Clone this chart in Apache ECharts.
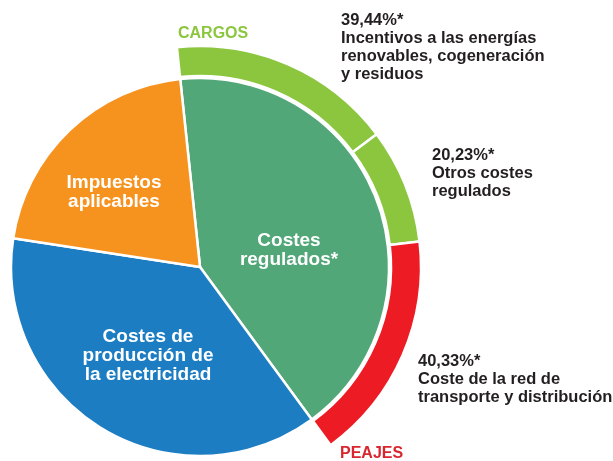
<!DOCTYPE html>
<html lang="es">
<head>
    <meta charset="UTF-8">
    <title>Costes</title>
    <style>
        html, body { margin: 0; padding: 0; background: #fff; }
    </style>
</head>
<body>
<div id="main" style="width: 613px;height:461px;"></div>
<script src="https://cdn.jsdelivr.net/npm/echarts@6/dist/echarts.min.js"></script>
<script>
    // datos
    var innerNames = ['Costes\nregulados*', 'Costes de\nproducción de\nla electricidad', 'Impuestos\naplicables'];
    var innerValues = [41.6, 37.5, 20.9];
    var innerColors = ['#52a778', '#1c7dc2', '#f6921e'];

    var ringNames = ['Incentivos a las energías\nrenovables, cogeneración\ny residuos', 'Otros costes\nregulados', 'Coste de la red de\ntransporte y distribución'];
    var ringValues = [39.44, 20.23, 40.33];
    var ringColors = ['#8cc63f', '#8cc63f', '#ed1c24'];

    // posiciones de etiquetas (layout)
    var innerLabelPos = [[289, 250], [148, 356], [114, 192]];
    var ringLabelPos = [[341, 11], [432, 146], [418, 352]];

    var myChart = echarts.init(document.getElementById('main'));

    var innerData = [];
    for (var i = 0; i < innerValues.length; i++) {
        innerData.push({ name: innerNames[i], value: innerValues[i], itemStyle: { color: innerColors[i] } });
    }

    var ringTotal = 0;
    for (var j = 0; j < ringValues.length; j++) ringTotal += ringValues[j];
    // el anillo solo cubre la parte de costes regulados
    var filler = ringTotal * (innerValues[1] + innerValues[2]) / innerValues[0];

    var ringData = [];
    for (var k = 0; k < ringValues.length; k++) {
        ringData.push({ name: ringNames[k], value: ringValues[k], itemStyle: { color: ringColors[k] } });
    }
    ringData.push({
        name: 'resto', value: filler,
        itemStyle: { color: 'transparent', borderWidth: 0 },
        label: { show: false }, emphasis: { disabled: true }
    });

    var startAngle = 96;

    var option = {
        backgroundColor: '#fff',
        animation: false,
        graphic: [
            {
                type: 'text', left: 178, top: 26,
                style: { text: 'CARGOS', fill: '#8cc63f', font: 'bold 16px "Liberation Sans", Arial, sans-serif' }
            },
            {
                type: 'text', left: 340, top: 446,
                style: { text: 'PEAJES', fill: '#d9262e', font: 'bold 16px "Liberation Sans", Arial, sans-serif' }
            }
        ],
        series: [
            {
                type: 'pie',
                center: [200, 267],
                radius: [0, 189],
                startAngle: startAngle,
                clockwise: true,
                avoidLabelOverlap: false,
                silent: true,
                itemStyle: { borderColor: '#fff', borderWidth: 2.5 },
                label: {
                    show: true,
                    position: 'inside',
                    color: '#fff',
                    fontFamily: '"Liberation Sans", Arial, sans-serif',
                    fontWeight: 'bold',
                    fontSize: 19,
                    lineHeight: 19,
                    align: 'center',
                    formatter: '{b}'
                },
                labelLine: { show: false },
                labelLayout: function (p) {
                    var pos = innerLabelPos[p.dataIndex];
                    return { x: pos[0], y: pos[1], align: 'center', verticalAlign: 'middle' };
                },
                data: innerData
            },
            {
                type: 'pie',
                center: [200, 267],
                radius: [191, 221],
                startAngle: startAngle,
                clockwise: true,
                avoidLabelOverlap: false,
                silent: true,
                itemStyle: { borderColor: '#fff', borderWidth: 2.5 },
                label: {
                    show: true,
                    position: 'outside',
                    color: '#231f20',
                    fontFamily: '"Liberation Sans", Arial, sans-serif',
                    fontWeight: 'bold',
                    fontSize: 16.5,
                    lineHeight: 18,
                    align: 'left',
                    formatter: function (p) {
                        return p.value.toFixed(2).replace('.', ',') + '%*\n' + p.name;
                    }
                },
                labelLine: { show: false },
                labelLayout: function (p) {
                    var pos = ringLabelPos[p.dataIndex];
                    if (!pos) return {};
                    return { x: pos[0], y: pos[1], align: 'left', verticalAlign: 'top' };
                },
                data: ringData
            }
        ]
    };

    myChart.setOption(option);
</script>
</body>
</html>
